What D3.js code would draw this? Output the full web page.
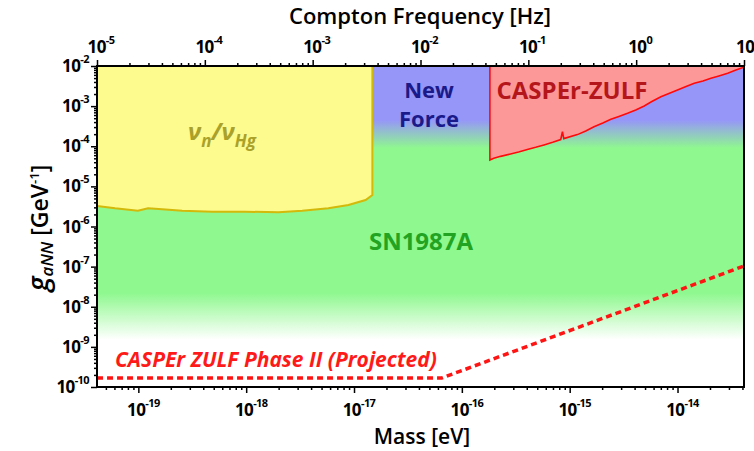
<!DOCTYPE html>
<html>
<head>
<meta charset="utf-8">
<script src="https://cdn.jsdelivr.net/npm/d3@7"></script>
<style>
body{margin:0;background:#fff;}
text{font-family:"Open Sans",sans-serif;}
</style>
</head>
<body>
<svg width="754" height="451"></svg>
<script>
// h in eV per Hz, links the top axis (frequency) to the bottom one (mass)
var H_EV = 4.135667e-15;
var freqDomain = [1e-5, 1e1];
var gDomain = [1e-10, 1e-2];

var freqTicks = [1e-5, 1e-4, 1e-3, 1e-2, 1e-1, 1e0, 1e1];
var freqExp = ['-5', '-4', '-3', '-2', '-1', '0', '1'];
var massTicks = [1e-19, 1e-18, 1e-17, 1e-16, 1e-15, 1e-14];
var massExp = ['-19', '-18', '-17', '-16', '-15', '-14'];
var gTicks = [1e-2, 1e-3, 1e-4, 1e-5, 1e-6, 1e-7, 1e-8, 1e-9, 1e-10];
var gExp = ['-2', '-3', '-4', '-5', '-6', '-7', '-8', '-9', '-10'];

// vn/vHg excluded region, lower edge
var hgMass = [4.14e-20, 6.08e-20, 9.9e-20, 1.23e-19, 1.66e-19, 2.55e-19, 4.84e-19, 9.8e-19, 1.99e-18, 3.31e-18, 5.78e-18, 8.87e-18, 1.28e-17, 1.48e-17];
var hgG = [3.24e-6, 2.84e-6, 2.48e-6, 2.84e-6, 2.69e-6, 2.48e-6, 2.34e-6, 2.34e-6, 2.26e-6, 2.48e-6, 2.84e-6, 3.44e-6, 4.57e-6, 6.1e-6];

// CASPEr-ZULF measured limit
var zulfMass = [1.82e-16, 1.98e-16, 2.29e-16, 2.83e-16, 3.36e-16, 4.05e-16, 4.84e-16, 5.78e-16, 6.96e-16, 8.26e-16, 8.57e-16, 8.81e-16, 1.18e-15, 1.41e-15, 1.68e-15, 2.03e-15, 2.41e-15, 2.86e-15, 3.44e-15, 4.1e-15, 4.91e-15, 5.78e-15, 7.01e-15, 8.32e-15, 1.0e-14, 1.2e-14, 1.43e-14, 1.72e-14, 2.04e-14, 2.42e-14, 2.92e-14, 3.48e-14, 4.13e-14];
var zulfG = [4.54e-5, 5.01e-5, 5.6e-5, 6.4e-5, 7.2e-5, 8.3e-5, 9.4e-5, 1.08e-4, 1.26e-4, 1.47e-4, 2.31e-4, 1.55e-4, 1.95e-4, 2.4e-4, 3.07e-4, 3.8e-4, 4.7e-4, 5.51e-4, 6.62e-4, 8.0e-4, 1.01e-3, 1.3e-3, 1.72e-3, 2.07e-3, 2.52e-3, 3.08e-3, 3.71e-3, 4.23e-3, 4.93e-3, 5.63e-3, 6.58e-3, 7.94e-3, 9.28e-3];

// Phase II projection
var projMass = [4.14e-20, 6.5e-17, 4.14e-14];
var projG = [1.67e-10, 1.67e-10, 1.04e-7];

// colour bands of the background (g values)
var bandG = [4.5e-4, 9e-5, 2.2e-8, 1.5e-9];

var svg = d3.select('svg');
var L = 97, R = 744, T = 66, B = 387;

var xf = d3.scaleLog().domain(freqDomain).range([L, R]);
var x = d3.scaleLog().domain(freqDomain.map(function(f){return f*H_EV;})).range([L, R]);
var y = d3.scaleLog().domain(gDomain).range([B, T]);

var defs = svg.append('defs');
defs.append('clipPath').attr('id', 'clip').append('rect')
  .attr('x', L).attr('y', T).attr('width', R-L).attr('height', B-T);

var grad = defs.append('linearGradient').attr('id', 'bg')
  .attr('gradientUnits', 'userSpaceOnUse')
  .attr('x1', 0).attr('x2', 0).attr('y1', T).attr('y2', B);
function off(g){return (y(g)-T)/(B-T);}
grad.append('stop').attr('offset', 0).attr('stop-color', '#9696f8');
grad.append('stop').attr('offset', off(bandG[0])).attr('stop-color', '#9696f8');
grad.append('stop').attr('offset', off(bandG[1])).attr('stop-color', '#8ff88f');
grad.append('stop').attr('offset', off(bandG[2])).attr('stop-color', '#8ff88f');
grad.append('stop').attr('offset', off(bandG[3])).attr('stop-color', '#ffffff');
grad.append('stop').attr('offset', 1).attr('stop-color', '#ffffff');

var plot = svg.append('g').attr('clip-path', 'url(#clip)');
plot.append('rect').attr('x', L).attr('y', T).attr('width', R-L).attr('height', B-T)
  .attr('fill', 'url(#bg)');

// yellow region
var hgPts = hgMass.map(function(m, i){return [m, hgG[i]];});
var line = d3.line().x(function(d){return x(d[0]);}).y(function(d){return y(d[1]);});
var hgArea = [[hgMass[0], gDomain[1]]].concat(hgPts).concat([[hgMass[hgMass.length-1], gDomain[1]]]);
plot.append('path').attr('d', line(hgArea)+'Z').attr('fill', '#fdfa8e');
plot.append('path').attr('d', line(hgPts.concat([[hgMass[hgMass.length-1], gDomain[1]]])))
  .attr('fill', 'none').attr('stroke', '#d2b90a').attr('stroke-width', 2);

// red region
var zPts = zulfMass.map(function(m, i){return [m, zulfG[i]];});
var zArea = [[zulfMass[0], gDomain[1]]].concat(zPts).concat([[zulfMass[zulfMass.length-1], gDomain[1]]]);
plot.append('path').attr('d', line(zArea)+'Z').attr('fill', '#fd9898');
plot.append('path').attr('d', line([[zulfMass[0], gDomain[1]]].concat(zPts)))
  .attr('fill', 'none').attr('stroke', '#ff0a0a').attr('stroke-width', 1.6);

// projected
var pPts = projMass.map(function(m, i){return [m, projG[i]];});
plot.append('path').attr('d', line(pPts)).attr('fill', 'none')
  .attr('stroke', '#ff1414').attr('stroke-width', 3.5).attr('stroke-dasharray', '6,4');

// frame
svg.append('rect').attr('x', L).attr('y', T).attr('width', R-L).attr('height', B-T)
  .attr('fill', 'none').attr('stroke', 'black').attr('stroke-width', 2);

// minor ticks helper
function minors(dom){
  var out = [];
  var lo = Math.floor(Math.log10(dom[0])), hi = Math.ceil(Math.log10(dom[1]));
  for (var e = lo; e <= hi; e++) for (var k = 2; k <= 9; k++) {
    var v = k*Math.pow(10, e);
    if (v >= dom[0] && v <= dom[1]) out.push(v);
  }
  return out;
}

// top axis
var topAx = svg.append('g').attr('transform', 'translate(0,'+T+')');
topAx.call(d3.axisTop(xf).tickValues(freqTicks).tickSize(6).tickFormat(''));
topAx.append('g').call(d3.axisTop(xf).tickValues(minors(freqDomain)).tickSize(3).tickFormat(''));
// bottom axis
var botAx = svg.append('g').attr('transform', 'translate(0,'+B+')');
botAx.call(d3.axisBottom(x).tickValues(massTicks).tickSize(6).tickFormat(''));
botAx.append('g').call(d3.axisBottom(x).tickValues(minors(x.domain())).tickSize(3).tickFormat(''));
// left axis
var leftAx = svg.append('g').attr('transform', 'translate('+L+',0)');
leftAx.call(d3.axisLeft(y).tickValues(gTicks).tickSize(6).tickFormat(''));
leftAx.append('g').call(d3.axisLeft(y).tickValues(minors(gDomain)).tickSize(3).tickFormat(''));
svg.selectAll('.domain').attr('stroke', 'none');
svg.selectAll('.tick line').attr('stroke', 'black').attr('stroke-width', 1.5);

function pow10(sel, exp){
  sel.append('tspan').text('10');
  sel.append('tspan').attr('font-size', 11).attr('dy', -9).text(exp);
}
function tickText(px, py, anchor){
  return svg.append('text').attr('x', px).attr('y', py).attr('text-anchor', anchor)
    .attr('font-size', 17).attr('font-weight', 700).attr('letter-spacing', -0.6);
}
freqTicks.forEach(function(v, i){
  tickText(xf(v)+4, 53, 'middle').call(pow10, freqExp[i]);
});
massTicks.forEach(function(v, i){
  tickText(x(v)+5, 416, 'middle').call(pow10, massExp[i]);
});
gTicks.forEach(function(v, i){
  tickText(89, y(v)+6, 'end').call(pow10, gExp[i]);
});

// axis titles
svg.append('text').attr('x', 420).attr('y', 24).attr('text-anchor', 'middle')
  .attr('font-size', 22).attr('font-weight', 600).text('Compton Frequency [Hz]');
svg.append('text').attr('x', 422).attr('y', 444).attr('text-anchor', 'middle')
  .attr('font-size', 21).attr('font-weight', 600).text('Mass [eV]');
var yl = svg.append('text').attr('transform', 'translate(48,228) rotate(-90)')
  .attr('text-anchor', 'middle').attr('font-size', 23).attr('font-weight', 600);
yl.append('tspan').attr('font-style', 'italic').attr('font-size', 28).text('g');
yl.append('tspan').attr('font-style', 'italic').attr('font-size', 17).attr('dy', 5).text('aNN');
yl.append('tspan').attr('dy', -5).text(' [GeV');
yl.append('tspan').attr('font-size', 13).attr('dy', -9).text('-1');
yl.append('tspan').attr('dy', 9).text(']');

// region labels
var hg = svg.append('text').attr('x', 188).attr('y', 140).attr('fill', '#a9a12a')
  .attr('font-size', 24).attr('font-weight', 700).attr('font-style', 'italic');
hg.append('tspan').text('ν');
hg.append('tspan').attr('font-size', 17).attr('dy', 7).text('n');
hg.append('tspan').attr('dy', -7).text('/ν');
hg.append('tspan').attr('font-size', 17).attr('dy', 7).text('Hg');

svg.append('text').attr('x', 429).attr('y', 98).attr('text-anchor', 'middle')
  .attr('fill', '#1a1a8a').attr('font-size', 22).attr('font-weight', 700).text('New');
svg.append('text').attr('x', 429).attr('y', 127).attr('text-anchor', 'middle')
  .attr('fill', '#1a1a8a').attr('font-size', 22).attr('font-weight', 700).text('Force');
svg.append('text').attr('x', 572).attr('y', 99).attr('text-anchor', 'middle')
  .attr('fill', '#b5161b').attr('font-size', 24).attr('font-weight', 700).text('CASPEr-ZULF');
svg.append('text').attr('x', 421).attr('y', 250).attr('text-anchor', 'middle')
  .attr('fill', '#22a322').attr('font-size', 24).attr('font-weight', 700).text('SN1987A');
svg.append('text').attr('x', 115).attr('y', 367)
  .attr('fill', '#ff1a1a').attr('font-size', 21).attr('font-weight', 700).attr('font-style', 'italic')
  .text('CASPEr ZULF Phase II (Projected)');
</script>
</body>
</html>
